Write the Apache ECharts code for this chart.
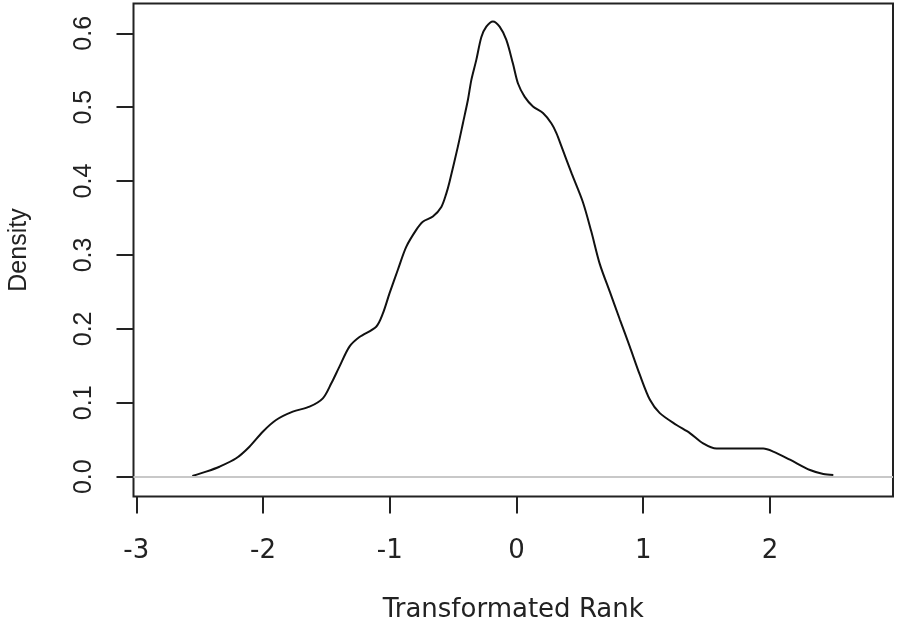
<!doctype html>
<html lang="en">
<head>
<meta charset="UTF-8">
<title>Density</title>
<script src="https://cdn.jsdelivr.net/npm/echarts@6/dist/echarts.min.js"></script>
<style>
	html, body { margin: 0; padding: 0; background: #fff; }
	#main { width: 898px; height: 629px; }
</style>
</head>
<body>
<div id="main"></div>
<script type="text/javascript">
	// density curve
	var rankX = [-2.558, -2.449, -2.344, -2.212, -2.107, -2.002, -1.897, -1.765, -1.633, -1.528,
		-1.462, -1.397, -1.318, -1.239, -1.107, -1.054, -1.002, -0.936, -0.870, -0.791,
		-0.739, -0.660, -0.593, -0.554, -0.528, -0.462, -0.423, -0.383, -0.356, -0.317,
		-0.277, -0.238, -0.186, -0.133, -0.080, -0.028, 0.012, 0.065, 0.130, 0.209,
		0.276, 0.315, 0.355, 0.436, 0.523, 0.590, 0.657, 0.737, 0.815, 0.894, 0.973, 1.053, 1.131, 1.263,
		1.368, 1.473, 1.579, 1.947, 2.026, 2.158, 2.316, 2.421, 2.500];
	var density = [0.001, 0.0068, 0.0135, 0.0249, 0.0406, 0.0609, 0.0767, 0.088, 0.0947, 0.106,
		0.126, 0.149, 0.176, 0.189, 0.203, 0.221, 0.248, 0.280, 0.311, 0.334,
		0.345, 0.352, 0.365, 0.383, 0.399, 0.447, 0.478, 0.510, 0.537, 0.564,
		0.595, 0.609, 0.616, 0.609, 0.591, 0.559, 0.532, 0.514, 0.501, 0.492,
		0.478, 0.465, 0.447, 0.410, 0.372, 0.332, 0.288, 0.250, 0.213, 0.176, 0.138, 0.104, 0.086, 0.070,
		0.059, 0.045, 0.038, 0.038, 0.034, 0.023, 0.009, 0.0037, 0.0023];
	var xTicks = [-3, -2, -1, 0, 1, 2];
	var yTicks = [0, 0.1, 0.2, 0.3, 0.4, 0.5, 0.6];

	var points = rankX.map(function (x, i) { return [x, density[i]]; });

	var myChart = echarts.init(document.getElementById('main'));
	var option = {
		animation: false,
		grid: {
			left: 133.5, right: 5, top: 3.5, bottom: 132.5,
			outerBoundsMode: 'none', containLabel: false,
			show: true, borderColor: '#222', borderWidth: 2, backgroundColor: 'transparent'
		},
		xAxis: {
			type: 'value', min: -3.022, max: 2.971,
			name: 'Transformated Rank', nameLocation: 'middle', nameGap: 101,
			nameTextStyle: { fontFamily: 'DejaVu Sans', fontSize: 26, color: '#222' },
			axisLine: { show: false, onZero: false },
			splitLine: { show: false },
			axisTick: { show: true, length: 17, customValues: xTicks, lineStyle: { color: '#222', width: 2 } },
			axisLabel: { customValues: xTicks, margin: 42, fontFamily: 'DejaVu Sans', fontSize: 26, color: '#222' }
		},
		yAxis: {
			type: 'value', min: -0.0268, max: 0.6403,
			name: 'Density', nameLocation: 'middle', nameGap: 102, nameRotate: 90,
			nameTextStyle: { fontFamily: 'Liberation Sans', fontSize: 25, color: '#222' },
			axisLine: { show: false, onZero: false },
			splitLine: { show: false },
			axisTick: { show: true, length: 17, customValues: yTicks, lineStyle: { color: '#222', width: 2 } },
			axisLabel: {
				customValues: yTicks, rotate: 90, margin: 37,
				fontFamily: 'Liberation Sans', fontSize: 25, color: '#222',
				formatter: function (v) { return v.toFixed(1); }
			}
		},
		series: [{
			type: 'line',
			data: points,
			smooth: 0.3,
			showSymbol: false,
			lineStyle: { color: '#111', width: 2 },
			markLine: {
				silent: true, symbol: 'none', label: { show: false },
				lineStyle: { color: '#c8c8c8', type: 'solid', width: 2 },
				data: [{ yAxis: 0 }]
			}
		}]
	};
	myChart.setOption(option);
</script>
</body>
</html>
